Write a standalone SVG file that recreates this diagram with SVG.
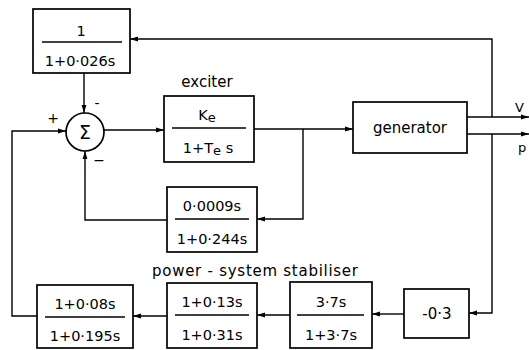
<svg xmlns="http://www.w3.org/2000/svg" width="529" height="350" viewBox="0 0 529 350">
<style>
.box{fill:#fff;stroke:#000;stroke-width:1.7}
.frac{stroke:#000;stroke-width:1.4}
.ln{fill:none;stroke:#000;stroke-width:1.4}
text{font-family:"DejaVu Sans","Liberation Sans",sans-serif;fill:#000}
.t{font-size:14.5px;text-anchor:middle}
.lab{font-size:15px}
</style>
<defs>
<marker id="ah" viewBox="0 0 8 6" refX="8" refY="3" markerWidth="8" markerHeight="6" markerUnits="userSpaceOnUse" orient="auto">
<path d="M0,0.6 L8,3 L0,5.4 Z" fill="#000"/>
</marker>
</defs>
<rect width="529" height="350" fill="#fff"/>
<g id="connectors">
<path class="ln" d="M492,117 V39 H130" marker-end="url(#ah)"/>
<path class="ln" d="M84,73 V113" marker-end="url(#ah)"/>
<path class="ln" d="M103,130 H164" marker-end="url(#ah)"/>
<path class="ln" d="M254,129 H353" marker-end="url(#ah)"/>
<path class="ln" d="M303,129 V219 H257" marker-end="url(#ah)"/>
<path class="ln" d="M167,220 H85 V151" marker-end="url(#ah)"/>
<path class="ln" d="M467,117 H529" marker-end="url(#ah)"/>
<path class="ln" d="M467,134 H529" marker-end="url(#ah)"/>
<path class="ln" d="M492,134 V313 H469" marker-end="url(#ah)"/>
<path class="ln" d="M404,314 H372" marker-end="url(#ah)"/>
<path class="ln" d="M290,315 H257" marker-end="url(#ah)"/>
<path class="ln" d="M167,316 H133" marker-end="url(#ah)"/>
<path class="ln" d="M37,316 H12 V131 H66" marker-end="url(#ah)"/>
</g>
<g id="filter">
<rect class="box" x="33" y="9" width="97" height="64"/>
<line class="frac" x1="42" y1="42" x2="122" y2="42"/>
<text class="t" x="81" y="36">1</text>
<text class="t" x="80" y="66">1+0·026s</text>
</g>
<g id="sum">
<circle cx="85" cy="132" r="19" fill="#fff" stroke="#000" stroke-width="1.7"/>
<text x="85" y="139" font-size="19" text-anchor="middle">Σ</text>
<text x="53" y="123" font-size="14" text-anchor="middle">+</text>
<text x="97" y="108" font-size="14" text-anchor="middle">-</text>
<text x="99" y="165" font-size="14" text-anchor="middle">−</text>
</g>
<g id="exciter">
<text class="lab" x="207" y="87" text-anchor="middle">exciter</text>
<rect class="box" x="164" y="96" width="90" height="66"/>
<line class="frac" x1="172" y1="128" x2="246" y2="128"/>
<text class="t" x="207" y="120" font-size="15">K<tspan font-size="13" dy="2">e</tspan></text>
<text class="t" x="208" y="153">1+T<tspan font-size="13" dy="2">e</tspan><tspan dy="-2"> s</tspan></text>
</g>
<g id="generator">
<rect class="box" x="353" y="102" width="114" height="51"/>
<text x="410" y="133" font-size="15" text-anchor="middle">generator</text>
<text x="515" y="112" font-size="13">V</text>
<text x="518" y="152" font-size="13">p</text>
</g>
<g id="damping">
<rect class="box" x="167" y="187" width="90" height="65"/>
<line class="frac" x1="175" y1="219" x2="249" y2="219"/>
<text class="t" x="212" y="211">0·0009s</text>
<text class="t" x="212" y="244">1+0·244s</text>
</g>
<text class="lab" x="152" y="276" textLength="206" lengthAdjust="spacing">power - system stabiliser</text>
<g id="pss3">
<rect class="box" x="37" y="285" width="96" height="63"/>
<line class="frac" x1="45" y1="317" x2="125" y2="317"/>
<text class="t" x="85" y="309">1+0·08s</text>
<text class="t" x="85" y="341">1+0·195s</text>
</g>
<g id="pss2">
<rect class="box" x="167" y="283" width="90" height="65"/>
<line class="frac" x1="175" y1="315" x2="249" y2="315"/>
<text class="t" x="212" y="307">1+0·13s</text>
<text class="t" x="212" y="340">1+0·31s</text>
</g>
<g id="pss1">
<rect class="box" x="290" y="282" width="82" height="66"/>
<line class="frac" x1="297" y1="315" x2="364" y2="315"/>
<text class="t" x="331" y="307">3·7s</text>
<text class="t" x="331" y="340">1+3·7s</text>
</g>
<g id="gain">
<rect class="box" x="404" y="289" width="65" height="49"/>
<text x="437" y="319" font-size="15" text-anchor="middle">-0·3</text>
</g>
</svg>
